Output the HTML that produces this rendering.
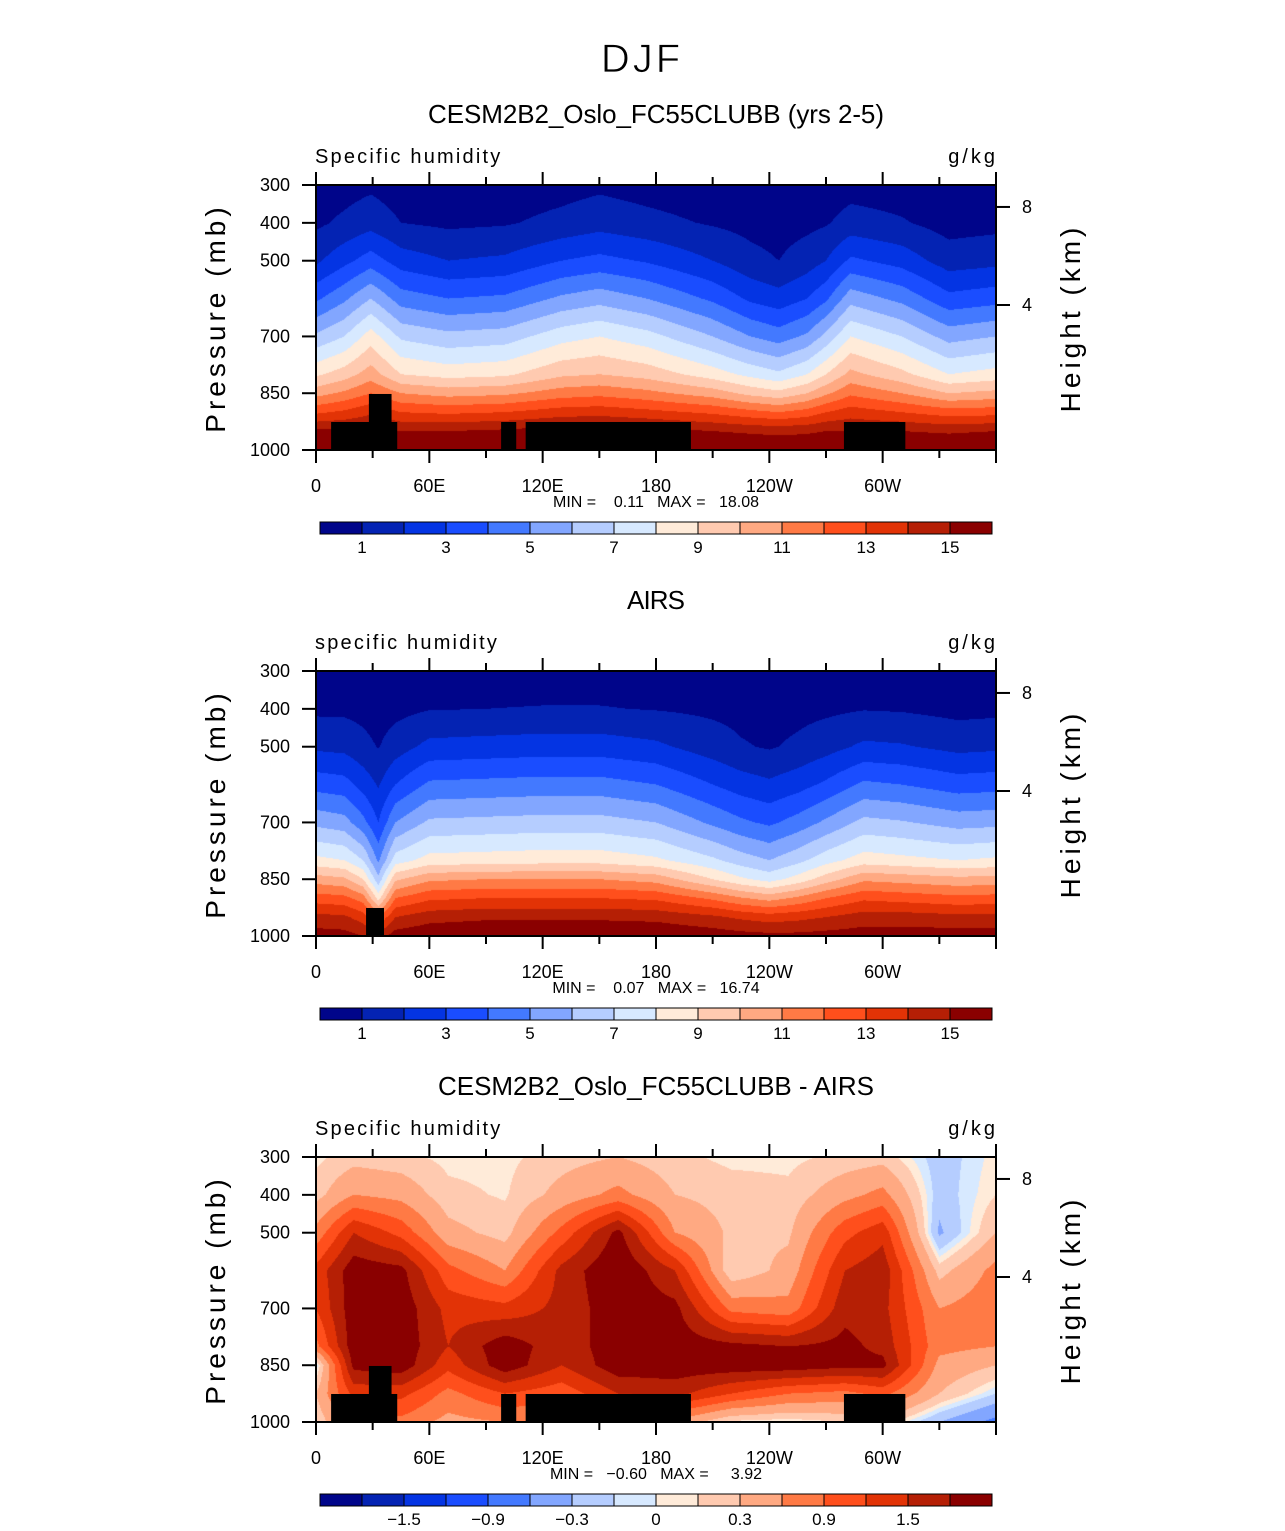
<!DOCTYPE html>
<html><head><meta charset="utf-8"><style>
body{margin:0;background:#fff;width:1285px;height:1531px;overflow:hidden;position:relative;font-family:"Liberation Sans",sans-serif}
canvas{position:absolute}
svg{position:absolute;left:0;top:0}
</style></head><body>
<canvas id="c1" width="680" height="265" style="left:316px;top:185px"></canvas>
<canvas id="c2" width="680" height="265" style="left:316px;top:671px"></canvas>
<canvas id="c3" width="680" height="265" style="left:316px;top:1157px"></canvas>
<svg id="s" width="1285" height="1531"></svg>
<script>
// ---- data ----
const qColors=["#00058a","#0423b3","#0434e3","#1a4dff","#4379ff","#82a6ff","#b5cdff","#d7e9ff","#ffebd9","#ffcab0","#ffa982","#ff7a45","#ff4f1c","#e23306","#b51f05","#8a0000"];
const qLevels=[1,2,3,4,5,6,7,8,9,10,11,12,13,14,15];
const qLabels=["1","3","5","7","9","11","13","15"];
const dLevels=[-1.8,-1.5,-1.2,-0.9,-0.6,-0.3,-0.1,0,0.1,0.3,0.6,0.9,1.2,1.5,1.8];
const dLabels=["−1.5","−0.9","−0.3","0","0.3","0.9","1.5"];
const pLevels=[300,400,500,600,700,800,850,900,950,1000];
const modelLon=[0,15,29,45,70,100,130,150,175,210,230,245,260,270,283,310,335,360];
const modelQ=[
[.5,.8,1.8,3.8,6.2,8.8,10.6,12.8,15.2,16.5],
[.6,1.2,2.7,4.8,7,9.5,11.2,13.2,15.2,16.5],
[.8,1.6,3.5,6,8.5,10.5,12,13.8,15.3,16.5],
[.5,1.0,2.5,4.5,6.8,9,11,13,15,16.5],
[.4,.8,2.0,4.0,6.3,8.6,10.6,12.8,15,16.5],
[.4,.9,2.2,4.2,6.5,8.8,10.8,13,15.2,16.5],
[.6,1.3,3.0,5.2,7.6,9.8,11.5,13.5,15.5,17],
[.8,1.6,3.3,5.6,8.0,10,11.7,13.6,15.6,17],
[.6,1.3,2.9,5.0,7.4,9.6,11.3,13.3,15.4,17],
[.4,.9,2.0,3.8,6.0,8.5,10.5,12.8,15,16.5],
[.35,.7,1.3,2.8,5.0,7.7,9.7,12.3,14.8,16.2],
[.3,.6,1.0,2.4,4.5,7.2,9.3,12,14.7,16],
[.35,.75,1.5,3.0,5.2,8.0,10,12.4,14.8,16.1],
[.4,.9,2.0,3.8,6.3,9.0,10.8,13,15,16.2],
[.6,1.4,3.2,5.6,8.0,10.3,11.8,13.5,15,16.2],
[.5,1.1,2.6,4.7,7.0,9.3,11,13,15,16.5],
[.3,.6,1.5,3.3,5.6,8.0,10,12.5,14.8,16.3],
[.4,.7,1.7,3.6,6.0,8.4,10.3,12.6,15,16.5]];
const airsLon=[0,15,25,33,42,60,90,120,150,180,210,225,240,255,270,290,310,340,360];
const airsQ=[
[.4,.8,1.8,3.6,5.7,8.3,10.5,12.5,14.3,15.5],
[.4,.8,1.7,3.4,5.4,8.0,10.2,12.3,14.2,15.4],
[.35,.7,1.3,2.6,4.3,7,9,11.5,13.5,15],
[.3,.55,.95,1.9,3.0,4.8,6.3,8.6,12,14.5],
[.35,.7,1.5,3,5,7.5,9.8,12,14,15.5],
[.45,.95,2.3,4.2,6.2,8.4,10.8,12.8,14.6,15.8],
[.5,1.0,2.4,4.3,6.3,8.5,11,13,14.8,16],
[.5,1.05,2.5,4.4,6.4,8.6,11,13,14.8,16],
[.5,1.05,2.5,4.4,6.4,8.6,11,13,14.8,16],
[.45,.95,2.2,4.0,6.0,8.2,10.6,12.8,14.7,15.9],
[.4,.8,1.5,3.0,4.8,7.2,9,11.8,14.2,15.6],
[.35,.7,1.1,2.5,4.2,6.5,8.2,11.1,13.8,15.4],
[.3,.6,.9,2.2,3.8,6.0,7.6,10.6,13.5,15.3],
[.35,.7,1.2,2.6,4.4,6.7,8.4,11.2,13.7,15.3],
[.4,.8,1.6,3.2,5.2,7.6,9.5,12,14,15.4],
[.45,.95,2.2,4.2,6.3,8.5,10.8,12.8,14.5,15.5],
[.45,.9,2.1,4.0,6.1,8.3,10.6,12.6,14.5,15.5],
[.35,.7,1.7,3.5,5.6,8,10.3,12.3,14.3,15.5],
[.4,.75,1.8,3.6,5.7,8.2,10.4,12.4,14.3,15.5]];
const diffLon=[0,20,45,70,100,130,160,190,220,250,280,300,330,360];
const diffP=[300,400,500,600,700,800,850,925,1000];
const diffQ=[
[0.05,0.2,0.7,1.3,1.2,0.8,-0.1,0.3,0.1],
[0.2,0.6,1.5,2.0,2.0,2.0,1.9,1.3,0.8],
[0.15,0.5,1.1,1.9,2.0,2.0,2.0,1.3,0.8],
[0.05,0.15,0.4,1.0,1.4,1.5,1.3,0.8,0.5],
[0.05,0.08,0.2,0.6,1.3,2.0,2.0,1.2,0.6],
[0.2,0.4,1.0,1.6,1.6,1.6,1.5,1.0,0.6],
[0.3,0.7,1.9,2.1,2.0,2.0,2.0,1.5,0.8],
[0.15,0.3,0.6,1.5,1.9,2.0,2.0,1.6,0.5],
[0.05,0.2,0.25,0.1,0.8,1.9,2.0,1.2,0.05],
[0.05,0.15,0.25,0.4,0.7,1.8,2.0,0.9,0.0],
[0.15,0.5,1.1,1.5,1.7,1.9,1.9,0.8,0.1],
[0.2,0.7,1.4,1.7,1.6,1.7,1.9,1.0,0.2],
[-0.2,-0.2,-0.35,0.2,0.6,0.7,0.5,0.3,-0.3],
[0.05,0.1,0.3,0.7,0.8,0.6,0.3,-0.1,-0.7]];
// topography blocks [lonStart, lonEnd, pTop]
const topo1=[[8,43,926],[28,40,852],[98,106,926],[111,198.5,926],[279.5,312,926]];
const topo2=[[26.5,36,926]];
const xTickLabels=["0","60E","120E","180","120W","60W"];
const xTickLons=[0,60,120,180,240,300];
const pTickLabels=[300,400,500,700,850,1000];
const hTickLabels=[8,4];
const hTickP=[358,617];

// ---- helpers ----
const X0=316,W=680,H=265;
function xOf(lon){return X0+lon/360*W;}
function yOf(p,top){return top+(p-300)/700*H;}
function findSeg(arr,v){let i=0;while(i<arr.length-2&&v>arr[i+1])i++;let f=(v-arr[i])/(arr[i+1]-arr[i]);return [i,Math.max(0,Math.min(1,f))];}
function interp(lons,ps,grid,lon,p){const [i,fx]=findSeg(lons,lon);const [j,fy]=findSeg(ps,p);
 const a=grid[i][j]*(1-fy)+grid[i][j+1]*fy, b=grid[i+1][j]*(1-fy)+grid[i+1][j+1]*fy; return a*(1-fx)+b*fx;}
function hex(c){return [parseInt(c.slice(1,3),16),parseInt(c.slice(3,5),16),parseInt(c.slice(5,7),16)];}
const rgb=qColors.map(hex);
function cls(levels,v){let k=0;while(k<levels.length&&v>=levels[k])k++;return k;}
function paint(id,lons,ps,grid,levels){const c=document.getElementById(id),ctx=c.getContext('2d');const im=ctx.createImageData(W,H);
 for(let y=0;y<H;y++){const p=300+(y+0.5)/H*700;for(let x=0;x<W;x++){const lon=(x+0.5)/W*360;const v=interp(lons,ps,grid,lon,p);const col=rgb[cls(levels,v)];const o=(y*W+x)*4;im.data[o]=col[0];im.data[o+1]=col[1];im.data[o+2]=col[2];im.data[o+3]=255;}}
 ctx.putImageData(im,0,0);}
paint('c1',modelLon,pLevels,modelQ,qLevels);
paint('c2',airsLon,pLevels,airsQ,qLevels);
paint('c3',diffLon,diffP,diffQ,dLevels);

const s=document.getElementById('s');const NS='http://www.w3.org/2000/svg';
function el(tag,attrs,parent){const e=document.createElementNS(NS,tag);for(const k in attrs)e.setAttribute(k,attrs[k]);(parent||s).appendChild(e);return e;}
function txt(x,y,str,size,anchor,extra){const t=el('text',Object.assign({x:x,y:y,'font-size':size,'text-anchor':anchor||'start','font-family':'Liberation Sans, sans-serif',fill:'#000'},extra||{}));t.textContent=str;return t;}

const t0=txt(642,72,"DJF",40,'middle',{'font-weight':'300','stroke':'#fff','stroke-width':'0.8','letter-spacing':'3'});


function panel(top,title,titleW,left,topo,levels,labels,labelIdx,minmax,pfx){
 const g=el('g',{});
 const tt=txt(656,top-62,title,26,'middle',{'textLength':String(titleW)});g.appendChild(tt);
 const lt=txt(315,top-22,left,20,'start',{'letter-spacing':'2.2'});g.appendChild(lt);
 const ut=txt(998,top-22,"g/kg",20,'end',{'letter-spacing':'3'});g.appendChild(ut);
 topo.forEach(b=>{const r=el('rect',{x:xOf(b[0]),y:yOf(b[2],top),width:xOf(b[1])-xOf(b[0]),height:yOf(1000,top)-yOf(b[2],top),fill:'#000'},g);});
 const fr=el('rect',{x:X0,y:top,width:W,height:H,fill:'none',stroke:'#000','stroke-width':2},g);
 for(let lon=0;lon<=360;lon+=30){const x=xOf(lon);const major=lon%60==0;const L=major?13:8;
  el('line',{x1:x,y1:top,x2:x,y2:top-L,stroke:'#000','stroke-width':2},g);el('line',{x1:x,y1:top+H,x2:x,y2:top+H+L,stroke:'#000','stroke-width':2},g);}
 xTickLons.forEach((lon,i)=>{const t=txt(xOf(lon),top+H+42,xTickLabels[i],18,'middle');g.appendChild(t);});
 pTickLabels.forEach(p=>{const y=yOf(p,top);el('line',{x1:X0,y1:y,x2:X0-14,y2:y,stroke:'#000','stroke-width':2},g);const t=txt(290,y+6,String(p),18,'end');g.appendChild(t);});
 hTickLabels.forEach((h,i)=>{const y=yOf(hTickP[i],top);el('line',{x1:X0+W,y1:y,x2:X0+W+14,y2:y,stroke:'#000','stroke-width':2},g);const t=txt(1022,y+6,String(h),18,'start');g.appendChild(t);});
 const ya=txt(0,0,"Pressure (mb)",28,'middle',{transform:`translate(225,${top+133}) rotate(-90)`,'letter-spacing':'4'});g.appendChild(ya);
 const ha=txt(0,0,"Height (km)",28,'middle',{transform:`translate(1080,${top+133}) rotate(-90)`,'letter-spacing':'4'});g.appendChild(ha);
 const mm=txt(656,top+H+57,minmax,16,'middle',{style:'white-space:pre'});g.appendChild(mm);
 const cbY=top+H+72;const cb=el('g',{},g);
 for(let k=0;k<16;k++){el('rect',{x:320+k*42,y:cbY,width:42,height:12,fill:qColors[k],stroke:'#000','stroke-width':1},cb);}
 labels.forEach((lb,i)=>{const k=labelIdx[i];const t=txt(320+k*42,cbY+31,lb,17,'middle');cb.appendChild(t);});
}
panel(185,"CESM2B2_Oslo_FC55CLUBB (yrs 2-5)",456,"Specific humidity",topo1,qLevels,qLabels,[1,3,5,7,9,11,13,15],"MIN =    0.11   MAX =   18.08","model");
panel(671,"AIRS",58,"specific humidity",topo2,qLevels,qLabels,[1,3,5,7,9,11,13,15],"MIN =    0.07   MAX =   16.74","airs");
panel(1157,"CESM2B2_Oslo_FC55CLUBB - AIRS",436,"Specific humidity",topo1,dLevels,dLabels,[2,4,6,8,10,12,14],"MIN =   −0.60   MAX =     3.92","diff");
</script>
</body></html>
